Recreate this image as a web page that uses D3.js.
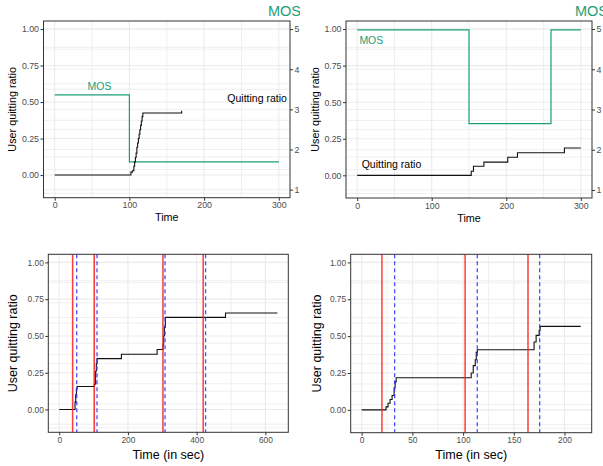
<!DOCTYPE html>
<html>
<head>
<meta charset="utf-8">
<script src="https://cdn.jsdelivr.net/npm/d3@7"></script>
<style>
  body { margin: 0; background: #fff; }
  text { font-family: "Liberation Sans", Arial, sans-serif; }
</style>
</head>
<body>
<script>
// top left: quitting ratio and MOS over time
const tlTime  = [0, 102, 104, 106, 107, 108, 109, 110, 111, 112, 113, 114, 115, 116, 117, 118, 170];
const tlRatio = [0, 0.02, 0.03, 0.06, 0.09, 0.12, 0.15, 0.19, 0.22, 0.25, 0.28, 0.31, 0.34, 0.37, 0.40, 0.425, 0.44];
const tlMosTime = [0, 100, 300];
const tlMos     = [3.36, 1.69, 1.69];

// top right
const trTime  = [0, 153, 156, 170, 202, 215, 278, 300];
const trRatio = [0, 0.028, 0.062, 0.09, 0.124, 0.154, 0.187, 0.187];
const trMosTime = [0, 150, 260, 300];
const trMos     = [4.98, 2.65, 4.98, 4.98];

// bottom left
const blTime  = [0, 46, 48, 50, 52, 102, 106, 108, 110, 181, 285, 302, 304, 306, 309, 484, 635];
const blRatio = [0, 0.05, 0.1, 0.14, 0.156, 0.172, 0.26, 0.31, 0.346, 0.376, 0.408, 0.44, 0.5, 0.56, 0.626, 0.656, 0.656];
const blRed  = [39, 102, 302, 419];
const blBlue = [51, 110, 308, 426];

// bottom right
const brTime  = [0, 24, 26, 28, 30, 32, 33, 34, 108, 110, 112, 113, 114, 170, 172, 175, 176, 216];
const brRatio = [0, 0.02, 0.045, 0.07, 0.097, 0.15, 0.19, 0.218, 0.25, 0.3, 0.34, 0.39, 0.408, 0.46, 0.505, 0.54, 0.566, 0.566];
const brRed  = [20, 102, 164];
const brBlue = [32.5, 114, 175.5];

const yTicks = [0, 0.25, 0.5, 0.75, 1];
const mosTicks = [1, 2, 3, 4, 5];

const green = "#1b9e77";

const svg = d3.select("body").append("svg")
  .attr("width", 603).attr("height", 466);

// MOS (secondary axis) -> quitting ratio scale
const mos2ratio = m => (m - 1) * 1.1 / 4 - 0.1;
const expand = (lo, hi) => { const d = (hi - lo) * 0.05; return [lo - d, hi + d]; };

function panel(o) {
  const g = svg.append("svg")
    .attr("x", o.ox).attr("y", o.oy)
    .attr("width", o.w).attr("height", o.h);

  const xMax = d3.max(o.time.concat(o.mosTime || []));
  const x = d3.scaleLinear().domain(expand(0, xMax)).range([o.left, o.right]);
  const y = d3.scaleLinear().domain(expand(-0.1, 1)).range([o.bottom, o.top]);

  const xMinor = d3.pairs(o.xTicks).map(p => (p[0] + p[1]) / 2);
  const yMinor = d3.pairs(yTicks).map(p => (p[0] + p[1]) / 2).concat([-0.125]);
  const mosGrid = d3.range(1, 5.01, 0.5).map(mos2ratio);

  g.append("rect")
    .attr("x", o.left).attr("y", o.top)
    .attr("width", o.right - o.left).attr("height", o.bottom - o.top)
    .attr("fill", "#fff");

  const grid = g.append("g").attr("stroke", "#ebebeb");
  grid.selectAll(".hmin").data(yMinor.concat(mosGrid)).join("line")
    .attr("x1", o.left).attr("x2", o.right)
    .attr("y1", d => y(d)).attr("y2", d => y(d))
    .attr("stroke-width", 0.8);
  grid.selectAll(".hmaj").data(yTicks).join("line")
    .attr("x1", o.left).attr("x2", o.right)
    .attr("y1", d => y(d)).attr("y2", d => y(d))
    .attr("stroke-width", 1.1);
  grid.selectAll(".vmin").data(xMinor).join("line")
    .attr("y1", o.top).attr("y2", o.bottom)
    .attr("x1", d => x(d)).attr("x2", d => x(d))
    .attr("stroke-width", 0.8);
  grid.selectAll(".vmaj").data(o.xTicks).join("line")
    .attr("y1", o.top).attr("y2", o.bottom)
    .attr("x1", d => x(d)).attr("x2", d => x(d))
    .attr("stroke-width", 1.1);

  const line = d3.line().curve(d3.curveStepAfter)
    .x(d => x(d[0])).y(d => y(d[1]));

  if (o.mos) {
    g.append("path")
      .datum(o.mosTime.map((t, i) => [t, mos2ratio(o.mos[i])]))
      .attr("d", line)
      .attr("fill", "none").attr("stroke", green).attr("stroke-width", 1.2);
  }

  g.append("path")
    .datum(o.time.map((t, i) => [t, o.ratio[i]]))
    .attr("d", line)
    .attr("fill", "none").attr("stroke", "#111").attr("stroke-width", 1.1);

  if (o.red) {
    g.selectAll(".red").data(o.red).join("line")
      .attr("x1", d => x(d)).attr("x2", d => x(d))
      .attr("y1", o.top).attr("y2", o.bottom)
      .attr("stroke", "#ff1a1a").attr("stroke-opacity", 0.85).attr("stroke-width", 1.5);
    g.selectAll(".blue").data(o.blue).join("line")
      .attr("x1", d => x(d)).attr("x2", d => x(d))
      .attr("y1", o.top).attr("y2", o.bottom)
      .attr("stroke", "#2f2fff").attr("stroke-opacity", 0.85).attr("stroke-width", 1.3)
      .attr("stroke-dasharray", "4,3");
  }

  (o.notes || []).forEach(n => {
    g.append("text")
      .attr("x", x(n.t)).attr("y", y(n.r))
      .attr("text-anchor", "middle").attr("dominant-baseline", "central")
      .attr("font-size", 10.5).attr("fill", n.color)
      .text(n.text);
  });

  g.append("rect")
    .attr("x", o.left).attr("y", o.top)
    .attr("width", o.right - o.left).attr("height", o.bottom - o.top)
    .attr("fill", "none").attr("stroke", "#333").attr("stroke-width", 1);

  const styleAxis = sel => {
    sel.select(".domain").remove();
    sel.selectAll(".tick line").attr("stroke", "#333");
    sel.selectAll(".tick text").attr("fill", "#4d4d4d")
      .attr("font-size", o.tickFont).attr("font-family", "Liberation Sans, Arial, sans-serif");
  };

  g.append("g").attr("transform", `translate(${o.left},0)`)
    .call(d3.axisLeft(y).tickValues(yTicks).tickFormat(d3.format(".2f")).tickSize(3).tickPadding(1.5))
    .call(styleAxis);
  g.append("g").attr("transform", `translate(0,${o.bottom})`)
    .call(d3.axisBottom(x).tickValues(o.xTicks).tickFormat(d3.format("d")).tickSize(3).tickPadding(1.5))
    .call(styleAxis);

  if (o.mos) {
    const yr = d3.scaleLinear().domain([1, 5]).range([y(mos2ratio(1)), y(mos2ratio(5))]);
    g.append("g").attr("transform", `translate(${o.right},0)`)
      .call(d3.axisRight(yr).tickValues(mosTicks).tickFormat(d3.format("d")).tickSize(3).tickPadding(1.5))
      .call(styleAxis);
    // secondary axis title, sits in the top right corner of each figure
    g.append("text")
      .attr("x", o.mosTitleX).attr("y", 16)
      .attr("font-size", 14.5).attr("fill", green)
      .text("MOS");
  }

  g.append("text")
    .attr("x", (o.left + o.right) / 2).attr("y", o.bottom + o.xTitleDy)
    .attr("text-anchor", "middle").attr("dominant-baseline", "central")
    .attr("font-size", o.titleFont).attr("fill", "#000")
    .text(o.xTitle);
  g.append("text")
    .attr("transform", `translate(${o.left - o.yTitleDx},${(o.top + o.bottom) / 2}) rotate(-90)`)
    .attr("text-anchor", "middle").attr("dominant-baseline", "central")
    .attr("font-size", o.titleFont).attr("fill", "#000")
    .text("User quitting ratio");
}

panel({
  ox: 0, oy: 0, w: 300, h: 236,
  left: 43.5, right: 290, top: 21, bottom: 197.7,
  time: tlTime, ratio: tlRatio, mosTime: tlMosTime, mos: tlMos,
  xTicks: [0, 100, 200, 300], xTitle: "Time",
  tickFont: 8.8, titleFont: 10.8, xTitleDy: 19.5, yTitleDx: 32,
  mosTitleX: 268,
  notes: [
    { t: 60, r: 0.61, text: "MOS", color: green },
    { t: 271, r: 0.53, text: "Quitting ratio", color: "#000" }
  ]
});

panel({
  ox: 300, oy: 0, w: 303, h: 236,
  left: 46, right: 292, top: 21, bottom: 198,
  time: trTime, ratio: trRatio, mosTime: trMosTime, mos: trMos,
  xTicks: [0, 100, 200, 300], xTitle: "Time",
  tickFont: 8.8, titleFont: 10.8, xTitleDy: 19.5, yTitleDx: 31,
  mosTitleX: 275,
  notes: [
    { t: 19, r: 0.925, text: "MOS", color: green },
    { t: 46, r: 0.08, text: "Quitting ratio", color: "#000" }
  ]
});

panel({
  ox: 0, oy: 240, w: 300, h: 226,
  left: 48.3, right: 288.3, top: 14.3, bottom: 192.3,
  time: blTime, ratio: blRatio, red: blRed, blue: blBlue,
  xTicks: [0, 200, 400, 600], xTitle: "Time (in sec)",
  tickFont: 8.4, titleFont: 12.5, xTitleDy: 22.5, yTitleDx: 35.5
});

panel({
  ox: 300, oy: 240, w: 303, h: 226,
  left: 50.7, right: 591.7 - 300, top: 14.3, bottom: 192.7,
  time: brTime, ratio: brRatio, red: brRed, blue: brBlue,
  xTicks: [0, 50, 100, 150, 200], xTitle: "Time (in sec)",
  tickFont: 8.4, titleFont: 12.5, xTitleDy: 22.5, yTitleDx: 34
});
</script>
</body>
</html>
